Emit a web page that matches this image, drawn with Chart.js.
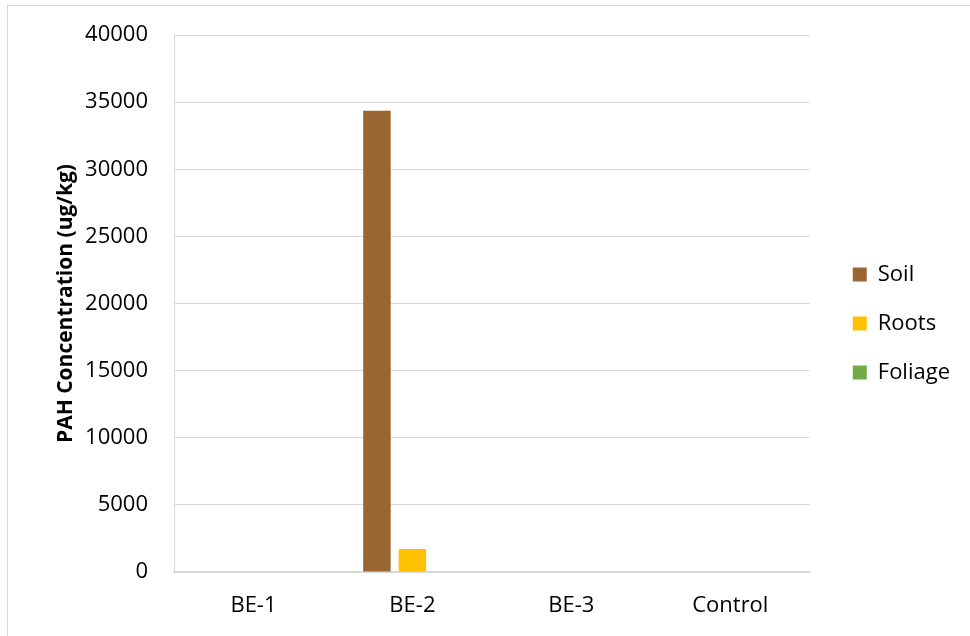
<!DOCTYPE html>
<html>
<head>
<meta charset="utf-8">
<script src="https://cdn.jsdelivr.net/npm/chart.js@4/dist/chart.umd.min.js"></script>
<style>
  html,body{margin:0;padding:0;background:#fff;overflow:hidden;}
  #frame{position:absolute;left:7px;top:5px;width:1000px;height:700px;border:1px solid #d9d9d9;}
  #wrap{position:absolute;left:0;top:0;width:970px;height:636px;}
</style>
</head>
<body>
<div id="frame"></div>
<div id="wrap"><canvas id="c" width="970" height="636"></canvas></div>
<script>
const categories = ['BE-1', 'BE-2', 'BE-3', 'Control'];
const soilValues = [0, 34350, 0, 0];
const rootsValues = [0, 1720, 0, 0];
const foliageValues = [0, 0, 0, 0];
const yTicks = [0, 5000, 10000, 15000, 20000, 25000, 30000, 35000, 40000];
const yTitle = 'PAH Concentration (ug/kg)';

const FONT = "'Open Sans', 'Liberation Sans', sans-serif";

const legendShift = {
  id: 'legendShift',
  afterLayout(chart) {
    const lg = chart.legend;
    if (!lg) return;
    lg.left += 16; lg.right += 16;
    lg.top -= 12; lg.bottom -= 12;
  }
};

new Chart(document.getElementById('c'), {
  type: 'bar',
  data: {
    labels: categories,
    datasets: [
      {label: 'Soil', data: soilValues, backgroundColor: '#996633'},
      {label: 'Roots', data: rootsValues, backgroundColor: '#FFC000'},
      {label: 'Foliage', data: foliageValues, backgroundColor: '#70AD47'}
    ]
  },
  plugins: [legendShift],
  options: {
    responsive: false,
    animation: false,
    devicePixelRatio: 1,
    categoryPercentage: 0.67,
    barPercentage: 0.775,
    layout: {padding: {left: 41, right: 26, top: 35, bottom: 0}},
    plugins: {
      legend: {
        position: 'right',
        labels: {
          font: {family: FONT, size: 22},
          color: '#000',
          boxWidth: 14,
          boxHeight: 14,
          padding: 27
        }
      },
      tooltip: {enabled: false}
    },
    scales: {
      x: {
        grid: {display: false, drawTicks: false},
        border: {display: true, color: '#d9d9d9', width: 2},
        ticks: {font: {family: FONT, size: 22}, color: '#000', padding: 21},
        afterFit: (s) => { s.height = 64; }
      },
      y: {
        min: 0, max: 40000,
        afterBuildTicks: (s) => { s.ticks = yTicks.map(v => ({value: v})); },
        grid: {color: '#d9d9d9', drawTicks: false, lineWidth: 1},
        border: {display: true, color: '#d9d9d9'},
        ticks: {font: {family: FONT, size: 22}, color: '#000', padding: 26, callback: (v) => String(v)},
        title: {display: true, text: yTitle, font: {family: FONT, size: 21, weight: 'bold'}, color: '#000', padding: {top: 12, bottom: 0}},
        afterFit: (s) => { s.width = 133; s.paddingTop = 0; s.paddingBottom = 0; }
      }
    }
  }
});
</script>
</body>
</html>
